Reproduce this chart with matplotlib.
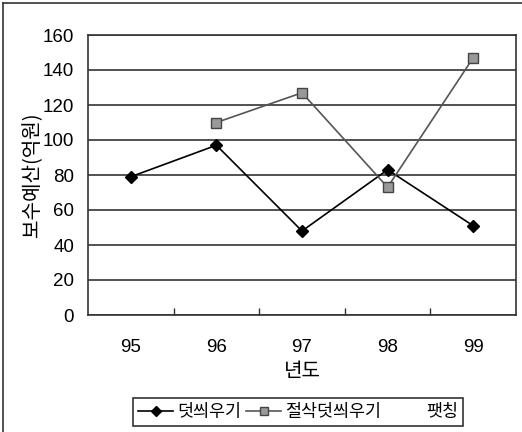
import matplotlib
matplotlib.use("Agg")
import matplotlib.pyplot as plt
from matplotlib.lines import Line2D
import numpy as np

plt.rcParams['font.family'] = ['Liberation Sans', 'Noto Sans CJK KR', 'DejaVu Sans']

years = ['95', '96', '97', '98', '99']
overlay = [79, 97, 48, 83, 51]                 # 덧씌우기
mill_overlay = [np.nan, 110, 127, 73, 147]     # 절삭덧씌우기
patching = [np.nan] * 5                         # 팻칭 (not visible)
yticks = [0, 20, 40, 60, 80, 100, 120, 140, 160]

fig = plt.figure(figsize=(5.22, 4.32), dpi=100)
ax = fig.add_axes([88/522, 1-315/432, 428/522, 280/432])

x = np.arange(len(years))
ax.plot(x, overlay, color='black', lw=1.2, marker='D', ms=6, mfc='black', mec='black', label='덧씌우기')
ax.plot(x, mill_overlay, color='#555555', lw=1.2, marker='s', ms=6.5, mfc='#999999', mec='#444444', label='절삭덧씌우기')
ax.plot(x, patching, color='white', lw=1.2, label='팻칭')

ax.set_xlim(-0.5, 4.5)
ax.set_ylim(0, 160)
ax.set_yticks(yticks)
ax.set_xticks(x)
ax.set_xticklabels(years)
ax.tick_params(axis='both', length=0, labelsize=13.5, pad=10)
ax.tick_params(axis='x', pad=17)
ax.set_xticks(np.arange(0.5, 4.5, 1), minor=True)
ax.tick_params(axis='x', which='minor', direction='in', length=5, width=1, color='#333333')
ax.yaxis.grid(True, color='#333333', lw=1.2)
ax.set_axisbelow(True)
for s in ax.spines.values():
    s.set_color('#333333')
    s.set_linewidth(1.2)

ax.set_ylabel('보수예산(억원)', fontsize=14.5, family=['Noto Sans CJK KR'], labelpad=0)
ax.set_xlabel('년도', fontsize=14.5, family=['Noto Sans CJK KR'], labelpad=4)

leg = fig.legend(loc='upper center', bbox_to_anchor=(298/522, 1-398/432), ncol=3,
                 prop={'family': 'Noto Sans CJK KR', 'size': 12.5}, frameon=True, fancybox=False,
                 handlelength=2.0, handletextpad=0.25, columnspacing=0.3, borderpad=0.3,
                 borderaxespad=0, markerscale=0.8)
leg.get_frame().set_edgecolor('black')
leg.get_frame().set_linewidth(1.2)

# figure border (left and top)
fig.add_artist(Line2D([3/522, 3/522], [0, 1-3/432], transform=fig.transFigure, color='#333333', lw=1.2))
fig.add_artist(Line2D([3/522, 1], [1-3/432, 1-3/432], transform=fig.transFigure, color='#333333', lw=1.2))

fig.savefig('out.png', dpi=100)
